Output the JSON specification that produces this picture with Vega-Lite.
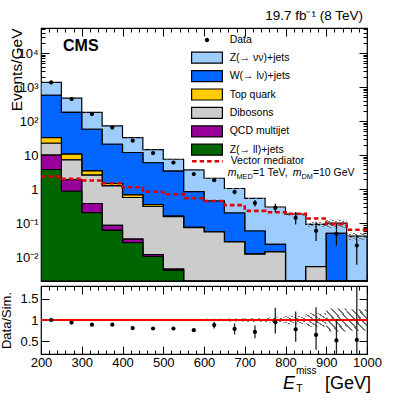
{
  "$schema": "https://vega.github.io/schema/vega-lite/v6.json",
  "background": "white",
  "padding": {"left": 0, "top": 8, "right": 4, "bottom": 0},
  "spacing": 1,
  "datasets": {
    "hist": [
      {"p": "Z(→ νν)+jets", "lo": 200, "hi": 250, "y0": 580, "y1": 1380},
      {"p": "Z(→ νν)+jets", "lo": 250, "hi": 300, "y0": 182, "y1": 475},
      {"p": "Z(→ νν)+jets", "lo": 300, "hi": 350, "y0": 58, "y1": 182},
      {"p": "Z(→ νν)+jets", "lo": 350, "hi": 400, "y0": 21, "y1": 73},
      {"p": "Z(→ νν)+jets", "lo": 400, "hi": 450, "y0": 12, "y1": 33},
      {"p": "Z(→ νν)+jets", "lo": 450, "hi": 500, "y0": 6, "y1": 14.5},
      {"p": "Z(→ νν)+jets", "lo": 500, "hi": 550, "y0": 3.4, "y1": 7.6},
      {"p": "Z(→ νν)+jets", "lo": 550, "hi": 600, "y0": 0.85, "y1": 3.7},
      {"p": "Z(→ νν)+jets", "lo": 600, "hi": 650, "y0": 0.45, "y1": 2.1},
      {"p": "Z(→ νν)+jets", "lo": 650, "hi": 700, "y0": 0.2, "y1": 1.05},
      {"p": "Z(→ νν)+jets", "lo": 700, "hi": 750, "y0": 0.059, "y1": 0.54},
      {"p": "Z(→ νν)+jets", "lo": 750, "hi": 800, "y0": 0.024, "y1": 0.30},
      {"p": "Z(→ νν)+jets", "lo": 800, "hi": 850, "y0": 0, "y1": 0.184},
      {"p": "Z(→ νν)+jets", "lo": 850, "hi": 900, "y0": 0.0053, "y1": 0.093},
      {"p": "Z(→ νν)+jets", "lo": 900, "hi": 950, "y0": 0.05, "y1": 0.1},
      {"p": "Z(→ νν)+jets", "lo": 950, "hi": 1000, "y0": 0, "y1": 0.042},
      {"p": "W(→ lν)+jets", "lo": 200, "hi": 250, "y0": 33, "y1": 580},
      {"p": "W(→ lν)+jets", "lo": 250, "hi": 300, "y0": 10.7, "y1": 182},
      {"p": "W(→ lν)+jets", "lo": 300, "hi": 350, "y0": 3.45, "y1": 58},
      {"p": "W(→ lν)+jets", "lo": 350, "hi": 400, "y0": 1.47, "y1": 21},
      {"p": "W(→ lν)+jets", "lo": 400, "hi": 450, "y0": 0.68, "y1": 12},
      {"p": "W(→ lν)+jets", "lo": 450, "hi": 500, "y0": 0.35, "y1": 6},
      {"p": "W(→ lν)+jets", "lo": 500, "hi": 550, "y0": 0.162, "y1": 3.4},
      {"p": "W(→ lν)+jets", "lo": 550, "hi": 600, "y0": 0.076, "y1": 0.85},
      {"p": "W(→ lν)+jets", "lo": 600, "hi": 650, "y0": 0.057, "y1": 0.45},
      {"p": "W(→ lν)+jets", "lo": 650, "hi": 700, "y0": 0.0285, "y1": 0.2},
      {"p": "W(→ lν)+jets", "lo": 700, "hi": 750, "y0": 0.0125, "y1": 0.059},
      {"p": "W(→ lν)+jets", "lo": 750, "hi": 800, "y0": 0.0145, "y1": 0.024},
      {"p": "W(→ lν)+jets", "lo": 800, "hi": 850, "y0": 0, "y1": 0},
      {"p": "W(→ lν)+jets", "lo": 850, "hi": 900, "y0": 0.0053, "y1": 0.0053},
      {"p": "W(→ lν)+jets", "lo": 900, "hi": 950, "y0": 0, "y1": 0.05},
      {"p": "W(→ lν)+jets", "lo": 950, "hi": 1000, "y0": 0, "y1": 0},
      {"p": "Top quark", "lo": 200, "hi": 250, "y0": 22.5, "y1": 33},
      {"p": "Top quark", "lo": 250, "hi": 300, "y0": 7.3, "y1": 10.7},
      {"p": "Top quark", "lo": 300, "hi": 350, "y0": 2.58, "y1": 3.45},
      {"p": "Top quark", "lo": 350, "hi": 400, "y0": 1.25, "y1": 1.47},
      {"p": "Top quark", "lo": 400, "hi": 450, "y0": 0.57, "y1": 0.68},
      {"p": "Top quark", "lo": 450, "hi": 500, "y0": 0.31, "y1": 0.35},
      {"p": "Top quark", "lo": 500, "hi": 550, "y0": 0.157, "y1": 0.162},
      {"p": "Top quark", "lo": 550, "hi": 600, "y0": 0.074, "y1": 0.076},
      {"p": "Top quark", "lo": 600, "hi": 650, "y0": 0.056, "y1": 0.057},
      {"p": "Top quark", "lo": 650, "hi": 700, "y0": 0.028, "y1": 0.0285},
      {"p": "Top quark", "lo": 700, "hi": 750, "y0": 0.0123, "y1": 0.0125},
      {"p": "Top quark", "lo": 750, "hi": 800, "y0": 0.0143, "y1": 0.0145},
      {"p": "Top quark", "lo": 800, "hi": 850, "y0": 0, "y1": 0},
      {"p": "Top quark", "lo": 850, "hi": 900, "y0": 0.0053, "y1": 0.0053},
      {"p": "Top quark", "lo": 900, "hi": 950, "y0": 0, "y1": 0},
      {"p": "Top quark", "lo": 950, "hi": 1000, "y0": 0, "y1": 0},
      {"p": "Dibosons", "lo": 200, "hi": 250, "y0": 10, "y1": 22.5},
      {"p": "Dibosons", "lo": 250, "hi": 300, "y0": 1.9, "y1": 7.3},
      {"p": "Dibosons", "lo": 300, "hi": 350, "y0": 0.38, "y1": 2.58},
      {"p": "Dibosons", "lo": 350, "hi": 400, "y0": 0.087, "y1": 1.25},
      {"p": "Dibosons", "lo": 400, "hi": 450, "y0": 0.034, "y1": 0.57},
      {"p": "Dibosons", "lo": 450, "hi": 500, "y0": 0.012, "y1": 0.31},
      {"p": "Dibosons", "lo": 500, "hi": 550, "y0": 0.0045, "y1": 0.157},
      {"p": "Dibosons", "lo": 550, "hi": 600, "y0": 0, "y1": 0.074},
      {"p": "Dibosons", "lo": 600, "hi": 650, "y0": 0, "y1": 0.056},
      {"p": "Dibosons", "lo": 650, "hi": 700, "y0": 0, "y1": 0.028},
      {"p": "Dibosons", "lo": 700, "hi": 750, "y0": 0, "y1": 0.0123},
      {"p": "Dibosons", "lo": 750, "hi": 800, "y0": 0, "y1": 0.0143},
      {"p": "Dibosons", "lo": 800, "hi": 850, "y0": 0, "y1": 0},
      {"p": "Dibosons", "lo": 850, "hi": 900, "y0": 0, "y1": 0.0053},
      {"p": "Dibosons", "lo": 900, "hi": 950, "y0": 0, "y1": 0},
      {"p": "Dibosons", "lo": 950, "hi": 1000, "y0": 0, "y1": 0},
      {"p": "QCD multijet", "lo": 200, "hi": 250, "y0": 3.8, "y1": 10},
      {"p": "QCD multijet", "lo": 250, "hi": 300, "y0": 0.87, "y1": 1.9},
      {"p": "QCD multijet", "lo": 300, "hi": 350, "y0": 0.206, "y1": 0.38},
      {"p": "QCD multijet", "lo": 350, "hi": 400, "y0": 0.062, "y1": 0.087},
      {"p": "QCD multijet", "lo": 400, "hi": 450, "y0": 0.027, "y1": 0.034},
      {"p": "QCD multijet", "lo": 450, "hi": 500, "y0": 0.0105, "y1": 0.012},
      {"p": "QCD multijet", "lo": 500, "hi": 550, "y0": 0.0041, "y1": 0.0045},
      {"p": "QCD multijet", "lo": 550, "hi": 600, "y0": 0, "y1": 0},
      {"p": "QCD multijet", "lo": 600, "hi": 650, "y0": 0, "y1": 0},
      {"p": "QCD multijet", "lo": 650, "hi": 700, "y0": 0, "y1": 0},
      {"p": "QCD multijet", "lo": 700, "hi": 750, "y0": 0, "y1": 0},
      {"p": "QCD multijet", "lo": 750, "hi": 800, "y0": 0, "y1": 0},
      {"p": "QCD multijet", "lo": 800, "hi": 850, "y0": 0, "y1": 0},
      {"p": "QCD multijet", "lo": 850, "hi": 900, "y0": 0, "y1": 0},
      {"p": "QCD multijet", "lo": 900, "hi": 950, "y0": 0, "y1": 0},
      {"p": "QCD multijet", "lo": 950, "hi": 1000, "y0": 0, "y1": 0},
      {"p": "Z(→ ll)+jets", "lo": 200, "hi": 250, "y0": 0, "y1": 3.8},
      {"p": "Z(→ ll)+jets", "lo": 250, "hi": 300, "y0": 0, "y1": 0.87},
      {"p": "Z(→ ll)+jets", "lo": 300, "hi": 350, "y0": 0, "y1": 0.206},
      {"p": "Z(→ ll)+jets", "lo": 350, "hi": 400, "y0": 0, "y1": 0.062},
      {"p": "Z(→ ll)+jets", "lo": 400, "hi": 450, "y0": 0, "y1": 0.027},
      {"p": "Z(→ ll)+jets", "lo": 450, "hi": 500, "y0": 0, "y1": 0.0105},
      {"p": "Z(→ ll)+jets", "lo": 500, "hi": 550, "y0": 0, "y1": 0.0041},
      {"p": "Z(→ ll)+jets", "lo": 550, "hi": 600, "y0": 0, "y1": 0},
      {"p": "Z(→ ll)+jets", "lo": 600, "hi": 650, "y0": 0, "y1": 0},
      {"p": "Z(→ ll)+jets", "lo": 650, "hi": 700, "y0": 0, "y1": 0},
      {"p": "Z(→ ll)+jets", "lo": 700, "hi": 750, "y0": 0, "y1": 0},
      {"p": "Z(→ ll)+jets", "lo": 750, "hi": 800, "y0": 0, "y1": 0},
      {"p": "Z(→ ll)+jets", "lo": 800, "hi": 850, "y0": 0, "y1": 0},
      {"p": "Z(→ ll)+jets", "lo": 850, "hi": 900, "y0": 0, "y1": 0},
      {"p": "Z(→ ll)+jets", "lo": 900, "hi": 950, "y0": 0, "y1": 0},
      {"p": "Z(→ ll)+jets", "lo": 950, "hi": 1000, "y0": 0, "y1": 0}
    ],
    "med": [
      {"lo": 200, "hi": 250, "m": 2.36},
      {"lo": 250, "hi": 300, "m": 2.03},
      {"lo": 300, "hi": 350, "m": 1.8},
      {"lo": 350, "hi": 400, "m": 1.5},
      {"lo": 400, "hi": 450, "m": 1.14},
      {"lo": 450, "hi": 500, "m": 0.84},
      {"lo": 500, "hi": 550, "m": 0.71},
      {"lo": 550, "hi": 600, "m": 0.54},
      {"lo": 600, "hi": 650, "m": 0.45},
      {"lo": 650, "hi": 700, "m": 0.34},
      {"lo": 700, "hi": 750, "m": 0.23},
      {"lo": 750, "hi": 800, "m": 0.21},
      {"lo": 800, "hi": 850, "m": 0.19},
      {"lo": 850, "hi": 900, "m": 0.137},
      {"lo": 900, "hi": 950, "m": 0.094},
      {"lo": 950, "hi": 1000, "m": 0.064}
    ],
    "pts": [
      {"x": 225, "d": 1380, "dlo": 1365, "dhi": 1395, "r": 1.0, "rlo": 0.99, "rhi": 1.01},
      {"x": 275, "d": 447, "dlo": 440, "dhi": 454, "r": 0.94, "rlo": 0.93, "rhi": 0.95},
      {"x": 325, "d": 162, "dlo": 158, "dhi": 166, "r": 0.89, "rlo": 0.875, "rhi": 0.905},
      {"x": 375, "d": 65, "dlo": 63, "dhi": 67, "r": 0.89, "rlo": 0.87, "rhi": 0.91},
      {"x": 425, "d": 26.7, "dlo": 25.7, "dhi": 27.7, "r": 0.81, "rlo": 0.79, "rhi": 0.83},
      {"x": 475, "d": 11.6, "dlo": 11, "dhi": 12.2, "r": 0.8, "rlo": 0.775, "rhi": 0.825},
      {"x": 525, "d": 6.1, "dlo": 5.7, "dhi": 6.5, "r": 0.8, "rlo": 0.77, "rhi": 0.83},
      {"x": 575, "d": 2.8, "dlo": 2.6, "dhi": 3.0, "r": 0.76, "rlo": 0.72, "rhi": 0.8},
      {"x": 625, "d": 1.85, "dlo": 1.66, "dhi": 2.05, "r": 0.88, "rlo": 0.8, "rhi": 0.96},
      {"x": 675, "d": 0.83, "dlo": 0.71, "dhi": 0.96, "r": 0.79, "rlo": 0.66, "rhi": 0.92},
      {"x": 725, "d": 0.39, "dlo": 0.31, "dhi": 0.48, "r": 0.72, "rlo": 0.57, "rhi": 0.87},
      {"x": 775, "d": 0.285, "dlo": 0.21, "dhi": 0.375, "r": 0.95, "rlo": 0.68, "rhi": 1.29},
      {"x": 825, "d": 0.144, "dlo": 0.092, "dhi": 0.215, "r": 0.78, "rlo": 0.49, "rhi": 1.2},
      {"x": 875, "d": 0.06, "dlo": 0.03, "dhi": 0.11, "r": 0.65, "rlo": 0.3, "rhi": 1.3},
      {"x": 925, "d": 0.049, "dlo": 0.022, "dhi": 0.095, "r": 0.52, "rlo": 0.1, "rhi": 1.02},
      {"x": 975, "d": 0.022, "dlo": 0.006, "dhi": 0.045, "r": 0.53, "rlo": 0.05, "rhi": 2.0}
    ],
    "unc": [
      {"lo": 200, "hi": 250, "blo": 1366, "bhi": 1394, "ulo": 0.995, "uhi": 1.005},
      {"lo": 250, "hi": 300, "blo": 470, "bhi": 480, "ulo": 0.995, "uhi": 1.005},
      {"lo": 300, "hi": 350, "blo": 180, "bhi": 184, "ulo": 0.994, "uhi": 1.006},
      {"lo": 350, "hi": 400, "blo": 72.4, "bhi": 73.6, "ulo": 0.992, "uhi": 1.008},
      {"lo": 400, "hi": 450, "blo": 32.5, "bhi": 33.5, "ulo": 0.985, "uhi": 1.015},
      {"lo": 450, "hi": 500, "blo": 14.2, "bhi": 14.8, "ulo": 0.982, "uhi": 1.018},
      {"lo": 500, "hi": 550, "blo": 7.45, "bhi": 7.75, "ulo": 0.98, "uhi": 1.02},
      {"lo": 550, "hi": 600, "blo": 3.61, "bhi": 3.79, "ulo": 0.975, "uhi": 1.025},
      {"lo": 600, "hi": 650, "blo": 2.04, "bhi": 2.16, "ulo": 0.97, "uhi": 1.03},
      {"lo": 650, "hi": 700, "blo": 1.01, "bhi": 1.09, "ulo": 0.965, "uhi": 1.035},
      {"lo": 700, "hi": 750, "blo": 0.516, "bhi": 0.564, "ulo": 0.955, "uhi": 1.045},
      {"lo": 750, "hi": 800, "blo": 0.282, "bhi": 0.318, "ulo": 0.94, "uhi": 1.06},
      {"lo": 800, "hi": 850, "blo": 0.166, "bhi": 0.202, "ulo": 0.9, "uhi": 1.1},
      {"lo": 850, "hi": 900, "blo": 0.078, "bhi": 0.108, "ulo": 0.84, "uhi": 1.16},
      {"lo": 900, "hi": 950, "blo": 0.073, "bhi": 0.127, "ulo": 0.73, "uhi": 1.27},
      {"lo": 950, "hi": 1000, "blo": 0.0315, "bhi": 0.0525, "ulo": 0.75, "uhi": 1.25}
    ]
  },
  "vconcat": [
    {
      "width": 326,
      "height": 253,
      "title": {"text": "19.7 fb⁻¹ (8 TeV)", "anchor": "end", "frame": "group", "fontSize": 13.5, "fontWeight": "normal", "font": "Liberation Sans", "color": "black", "offset": 5, "dx": -4},
      "resolve": {"axis": {"x": "independent", "y": "independent"}},
      "layer": [
        {
          "data": {"name": "hist"},
          "transform": [{"fold": ["lo", "hi"], "as": ["edge", "xv"]}],
          "mark": {"type": "area", "stroke": "black", "strokeWidth": 1.2, "invalid": "show", "clip": true, "interpolate": "linear"},
          "encoding": {
            "x": {"field": "xv", "type": "quantitative", "scale": {"domain": [200, 1000], "nice": false, "zero": false},
              "axis": {"orient": "bottom", "values": [200,220,240,260,280,300,320,340,360,380,400,420,440,460,480,500,520,540,560,580,600,620,640,660,680,700,720,740,760,780,800,820,840,860,880,900,920,940,960,980,1000], "labels": false, "title": null, "minExtent": 0, "maxExtent": 0,
                "tickSize": {"condition": {"test": "datum.value % 100 === 0", "value": -8}, "value": -4}}},
            "y": {"field": "y1", "type": "quantitative", "stack": null, "scale": {"type": "log", "domain": [0.002, 55000], "nice": false, "clamp": true},
              "axis": {"orient": "left", "title": "Events/GeV", "titleFontSize": 15.5, "titleAnchor": "end", "titlePadding": -9,
                "values": [0.002,0.003,0.004,0.005,0.006,0.007,0.008,0.009,0.01,0.02,0.03,0.04,0.05,0.06,0.07,0.08,0.09,0.1,0.2,0.3,0.4,0.5,0.6,0.7,0.8,0.9,1,2,3,4,5,6,7,8,9,10,20,30,40,50,60,70,80,90,100,200,300,400,500,600,700,800,900,1000,2000,3000,4000,5000,6000,7000,8000,9000,10000,20000,30000,40000,50000],
                "labelExpr": "datum.value == 10000 ? '10⁴' : datum.value == 1000 ? '10³' : datum.value == 100 ? '10²' : datum.value == 10 ? '10' : datum.value == 1 ? '1' : datum.value == 0.1 ? '10⁻¹' : datum.value == 0.01 ? '10⁻²' : ''",
                "labelFontSize": {"condition": {"test": "indexof([0.01,0.1,1,10,100,1000,10000], datum.value) >= 0", "value": 13}, "value": 0},
                "tickSize": {"condition": {"test": "indexof([0.01,0.1,1,10,100,1000,10000], datum.value) >= 0", "value": -8}, "value": -4},
                "labelPadding": 11}},
            "y2": {"field": "y0"},
            "fill": {"field": "p", "type": "nominal",
              "scale": {"domain": ["Z(→ νν)+jets", "W(→ lν)+jets", "Top quark", "Dibosons", "QCD multijet", "Z(→ ll)+jets"],
                        "range": ["#9dcdff", "#0066ff", "#ffcc00", "#cccccc", "#990099", "#006600"]},
              "legend": {"orient": "none", "legendX": 159.5, "legendY": 23.2, "title": null, "padding": 0,
                "labelFont": "Liberation Sans", "labelFontSize": 10.5, "labelColor": "black", "labelLimit": 300,
                "symbolType": "M-2.8,-1H2.8V1H-2.8Z", "symbolSize": 121, "symbolStrokeColor": "black", "symbolStrokeWidth": 1.2, "symbolOpacity": 1,
                "rowPadding": 1.4, "labelOffset": 16.2}}
          }
        },
        {
          "data": {"name": "unc"},
          "mark": {"type": "rect", "clip": true,
            "fill": {"gradient": "linear", "x1": 0, "y1": 1, "x2": 1, "y2": 0, "stops": [
              {"offset": 0, "color": "rgba(110,110,110,0)"}, {"offset": 0.1, "color": "rgba(110,110,110,0)"},
              {"offset": 0.1, "color": "#707070"}, {"offset": 0.15, "color": "#707070"},
              {"offset": 0.15, "color": "rgba(110,110,110,0)"}, {"offset": 0.2667, "color": "rgba(110,110,110,0)"},
              {"offset": 0.2667, "color": "#707070"}, {"offset": 0.3167, "color": "#707070"},
              {"offset": 0.3167, "color": "rgba(110,110,110,0)"}, {"offset": 0.4333, "color": "rgba(110,110,110,0)"},
              {"offset": 0.4333, "color": "#707070"}, {"offset": 0.4833, "color": "#707070"},
              {"offset": 0.4833, "color": "rgba(110,110,110,0)"}, {"offset": 0.6, "color": "rgba(110,110,110,0)"},
              {"offset": 0.6, "color": "#707070"}, {"offset": 0.65, "color": "#707070"},
              {"offset": 0.65, "color": "rgba(110,110,110,0)"}, {"offset": 0.7667, "color": "rgba(110,110,110,0)"},
              {"offset": 0.7667, "color": "#707070"}, {"offset": 0.8167, "color": "#707070"},
              {"offset": 0.8167, "color": "rgba(110,110,110,0)"}, {"offset": 0.9333, "color": "rgba(110,110,110,0)"},
              {"offset": 0.9333, "color": "#707070"}, {"offset": 0.9833, "color": "#707070"},
              {"offset": 0.9833, "color": "rgba(110,110,110,0)"}, {"offset": 1, "color": "rgba(110,110,110,0)"}]}},
          "encoding": {
            "x": {"field": "lo", "type": "quantitative", "scale": {"domain": [200, 1000], "nice": false, "zero": false}, "axis": null},
            "x2": {"field": "hi"},
            "y": {"field": "blo", "type": "quantitative", "scale": {"type": "log", "domain": [0.002, 55000], "nice": false, "clamp": true}, "axis": null},
            "y2": {"field": "bhi"}
          }
        },
        {
          "data": {"name": "med"},
          "transform": [{"fold": ["lo", "hi"], "as": ["edge", "xv"]}],
          "mark": {"type": "line", "color": "#dd0000", "strokeWidth": 2.6, "clip": true},
          "encoding": {
            "x": {"field": "xv", "type": "quantitative", "scale": {"domain": [200, 1000], "nice": false, "zero": false}, "axis": null},
            "y": {"field": "m", "type": "quantitative", "scale": {"type": "log", "domain": [0.002, 55000], "nice": false, "clamp": true}, "axis": null},
            "strokeDash": {"datum": "Vector mediator", "type": "nominal", "scale": {"domain": ["Vector mediator"], "range": [[4.5, 3]]},
              "legend": {"orient": "none", "legendX": 159.5, "legendY": 126.2, "title": null, "padding": 0,
                "labelFont": "Liberation Sans", "labelFontSize": 10.5, "labelColor": "black", "labelLimit": 300,
                "symbolType": "M-2.8,0H2.8", "symbolSize": 121, "symbolStrokeColor": "#dd0000", "symbolStrokeWidth": 2.6, "symbolDash": [4.5, 3], "symbolFillColor": "transparent", "symbolOpacity": 1,
                "labelOffset": 16.2}}
          }
        },
        {
          "data": {"name": "pts"},
          "mark": {"type": "rule", "color": "black", "strokeWidth": 1.2, "clip": true},
          "encoding": {
            "x": {"field": "x", "type": "quantitative", "scale": {"domain": [200, 1000], "nice": false, "zero": false}, "axis": null},
            "y": {"field": "dlo", "type": "quantitative", "scale": {"type": "log", "domain": [0.002, 55000], "nice": false, "clamp": true}, "axis": null},
            "y2": {"field": "dhi"}
          }
        },
        {
          "data": {"name": "pts"},
          "mark": {"type": "point", "filled": true, "color": "black", "size": 18, "opacity": 1},
          "encoding": {
            "x": {"field": "x", "type": "quantitative", "scale": {"domain": [200, 1000], "nice": false, "zero": false}, "axis": null},
            "y": {"field": "d", "type": "quantitative", "scale": {"type": "log", "domain": [0.002, 55000], "nice": false, "clamp": true}, "axis": null}
          }
        },
        {
          "data": {"values": [{}]},
          "mark": {"type": "text", "text": "CMS", "font": "Liberation Sans", "fontWeight": "bold", "fontSize": 16, "align": "left", "baseline": "alphabetic", "color": "black"},
          "encoding": {
            "x": {"datum": 254, "type": "quantitative", "scale": {"domain": [200, 1000], "nice": false, "zero": false}, "axis": null},
            "y": {"datum": 11500, "type": "quantitative", "scale": {"type": "log", "domain": [0.002, 55000], "nice": false, "clamp": true}, "axis": null}
          }
        },
        {
          "data": {"values": [{}]},
          "mark": {"type": "text", "text": "m", "font": "Liberation Sans", "fontStyle": "italic", "fontSize": 10.5, "align": "left", "baseline": "alphabetic", "color": "black"},
          "encoding": {
            "x": {"datum": 658.2, "type": "quantitative", "scale": {"domain": [200, 1000], "nice": false, "zero": false}, "axis": null},
            "y": {"datum": 2.41, "type": "quantitative", "scale": {"type": "log", "domain": [0.002, 55000], "nice": false, "clamp": true}, "axis": null}
          }
        },
        {
          "data": {"values": [{}]},
          "mark": {"type": "text", "text": "MED", "font": "Liberation Sans", "fontSize": 7.35, "align": "left", "baseline": "alphabetic", "dy": 3, "color": "black"},
          "encoding": {
            "x": {"datum": 679.6, "type": "quantitative", "scale": {"domain": [200, 1000], "nice": false, "zero": false}, "axis": null},
            "y": {"datum": 2.41, "type": "quantitative", "scale": {"type": "log", "domain": [0.002, 55000], "nice": false, "clamp": true}, "axis": null}
          }
        },
        {
          "data": {"values": [{}]},
          "mark": {"type": "text", "text": "=1 TeV,", "font": "Liberation Sans", "fontSize": 10.5, "align": "left", "baseline": "alphabetic", "color": "black"},
          "encoding": {
            "x": {"datum": 719.8, "type": "quantitative", "scale": {"domain": [200, 1000], "nice": false, "zero": false}, "axis": null},
            "y": {"datum": 2.41, "type": "quantitative", "scale": {"type": "log", "domain": [0.002, 55000], "nice": false, "clamp": true}, "axis": null}
          }
        },
        {
          "data": {"values": [{}]},
          "mark": {"type": "text", "text": "m", "font": "Liberation Sans", "fontStyle": "italic", "fontSize": 10.5, "align": "left", "baseline": "alphabetic", "color": "black"},
          "encoding": {
            "x": {"datum": 817.9, "type": "quantitative", "scale": {"domain": [200, 1000], "nice": false, "zero": false}, "axis": null},
            "y": {"datum": 2.41, "type": "quantitative", "scale": {"type": "log", "domain": [0.002, 55000], "nice": false, "clamp": true}, "axis": null}
          }
        },
        {
          "data": {"values": [{}]},
          "mark": {"type": "text", "text": "DM", "font": "Liberation Sans", "fontSize": 7.35, "align": "left", "baseline": "alphabetic", "dy": 3, "color": "black"},
          "encoding": {
            "x": {"datum": 839.3, "type": "quantitative", "scale": {"domain": [200, 1000], "nice": false, "zero": false}, "axis": null},
            "y": {"datum": 2.41, "type": "quantitative", "scale": {"type": "log", "domain": [0.002, 55000], "nice": false, "clamp": true}, "axis": null}
          }
        },
        {
          "data": {"values": [{}]},
          "mark": {"type": "text", "text": "=10 GeV", "font": "Liberation Sans", "fontSize": 10.5, "align": "left", "baseline": "alphabetic", "color": "black"},
          "encoding": {
            "x": {"datum": 867.2, "type": "quantitative", "scale": {"domain": [200, 1000], "nice": false, "zero": false}, "axis": null},
            "y": {"datum": 2.41, "type": "quantitative", "scale": {"type": "log", "domain": [0.002, 55000], "nice": false, "clamp": true}, "axis": null}
          }
        },
        {
          "data": {"name": "pts"},
          "mark": {"type": "point", "opacity": 0, "filled": true, "color": "black"},
          "encoding": {
            "x": {"field": "x", "type": "quantitative", "scale": {"domain": [200, 1000], "nice": false, "zero": false},
              "axis": {"orient": "top", "values": [200,220,240,260,280,300,320,340,360,380,400,420,440,460,480,500,520,540,560,580,600,620,640,660,680,700,720,740,760,780,800,820,840,860,880,900,920,940,960,980,1000], "labels": false, "title": null, "minExtent": 0, "maxExtent": 0,
                "tickSize": {"condition": {"test": "datum.value % 100 === 0", "value": -8}, "value": -4}}},
            "y": {"field": "d", "type": "quantitative", "scale": {"type": "log", "domain": [0.002, 55000], "nice": false, "clamp": true},
              "axis": {"orient": "right", "title": null, "labels": false, "minExtent": 0, "maxExtent": 0,
                "values": [0.002,0.003,0.004,0.005,0.006,0.007,0.008,0.009,0.01,0.02,0.03,0.04,0.05,0.06,0.07,0.08,0.09,0.1,0.2,0.3,0.4,0.5,0.6,0.7,0.8,0.9,1,2,3,4,5,6,7,8,9,10,20,30,40,50,60,70,80,90,100,200,300,400,500,600,700,800,900,1000,2000,3000,4000,5000,6000,7000,8000,9000,10000,20000,30000,40000,50000],
                "tickSize": {"condition": {"test": "indexof([0.01,0.1,1,10,100,1000,10000], datum.value) >= 0", "value": -8}, "value": -4}}},
            "shape": {"datum": "Data", "type": "nominal", "scale": {"domain": ["Data"], "range": ["M0,-1V1M0.4,0A0.4,0.4 0 1,1 -0.4,0A0.4,0.4 0 1,1 0.4,0Z"]},
              "legend": {"orient": "none", "legendX": 159.5, "legendY": 5.5, "title": null, "padding": 0,
                "labelFont": "Liberation Sans", "labelFontSize": 10.5, "labelColor": "black", "labelLimit": 300,
                "symbolSize": 121, "symbolStrokeColor": "black", "symbolStrokeWidth": 1.2, "symbolFillColor": "black", "symbolOpacity": 1,
                "labelOffset": 16.2}}
          }
        }
      ]
    },
    {
      "width": 326,
      "height": 68,
      "resolve": {"axis": {"x": "independent", "y": "independent"}},
      "layer": [
        {
          "data": {"name": "unc"},
          "mark": {"type": "rect", "clip": true,
            "fill": {"gradient": "linear", "x1": 0, "y1": 1, "x2": 1, "y2": 0, "stops": [
              {"offset": 0, "color": "rgba(110,110,110,0)"}, {"offset": 0.1, "color": "rgba(110,110,110,0)"},
              {"offset": 0.1, "color": "#707070"}, {"offset": 0.15, "color": "#707070"},
              {"offset": 0.15, "color": "rgba(110,110,110,0)"}, {"offset": 0.2667, "color": "rgba(110,110,110,0)"},
              {"offset": 0.2667, "color": "#707070"}, {"offset": 0.3167, "color": "#707070"},
              {"offset": 0.3167, "color": "rgba(110,110,110,0)"}, {"offset": 0.4333, "color": "rgba(110,110,110,0)"},
              {"offset": 0.4333, "color": "#707070"}, {"offset": 0.4833, "color": "#707070"},
              {"offset": 0.4833, "color": "rgba(110,110,110,0)"}, {"offset": 0.6, "color": "rgba(110,110,110,0)"},
              {"offset": 0.6, "color": "#707070"}, {"offset": 0.65, "color": "#707070"},
              {"offset": 0.65, "color": "rgba(110,110,110,0)"}, {"offset": 0.7667, "color": "rgba(110,110,110,0)"},
              {"offset": 0.7667, "color": "#707070"}, {"offset": 0.8167, "color": "#707070"},
              {"offset": 0.8167, "color": "rgba(110,110,110,0)"}, {"offset": 0.9333, "color": "rgba(110,110,110,0)"},
              {"offset": 0.9333, "color": "#707070"}, {"offset": 0.9833, "color": "#707070"},
              {"offset": 0.9833, "color": "rgba(110,110,110,0)"}, {"offset": 1, "color": "rgba(110,110,110,0)"}]}},
          "encoding": {
            "x": {"field": "lo", "type": "quantitative", "scale": {"domain": [200, 1000], "nice": false, "zero": false},
              "axis": {"orient": "bottom", "values": [200,220,240,260,280,300,320,340,360,380,400,420,440,460,480,500,520,540,560,580,600,620,640,660,680,700,720,740,760,780,800,820,840,860,880,900,920,940,960,980,1000], "title": null,
                "labelExpr": "datum.value % 100 === 0 ? format(datum.value, 'd') : ''", "labelPadding": 10,
                "tickSize": {"condition": {"test": "datum.value % 100 === 0", "value": -8}, "value": -4}}},
            "x2": {"field": "hi"},
            "y": {"field": "ulo", "type": "quantitative", "scale": {"domain": [0.2, 1.8], "nice": false, "zero": false},
              "axis": {"orient": "left", "title": "Data/Sim.", "titleFontSize": 13, "titlePadding": 6, "values": [0.5, 1, 1.5], "format": "~g", "tickSize": -8, "labelPadding": 11}},
            "y2": {"field": "uhi"}
          }
        },
        {
          "data": {"values": [{}]},
          "mark": {"type": "rule", "color": "#ff0000", "strokeWidth": 2},
          "encoding": {
            "y": {"datum": 1, "type": "quantitative", "scale": {"domain": [0.2, 1.8], "nice": false, "zero": false}, "axis": null}
          }
        },
        {
          "data": {"name": "pts"},
          "mark": {"type": "rule", "color": "#222222", "strokeWidth": 1.3, "clip": true},
          "encoding": {
            "x": {"field": "x", "type": "quantitative", "scale": {"domain": [200, 1000], "nice": false, "zero": false}, "axis": null},
            "y": {"field": "rlo", "type": "quantitative", "scale": {"domain": [0.2, 1.8], "nice": false, "zero": false}, "axis": null},
            "y2": {"field": "rhi"}
          }
        },
        {
          "data": {"name": "pts"},
          "mark": {"type": "point", "filled": true, "color": "black", "size": 18, "opacity": 1},
          "encoding": {
            "x": {"field": "x", "type": "quantitative", "scale": {"domain": [200, 1000], "nice": false, "zero": false}, "axis": null},
            "y": {"field": "r", "type": "quantitative", "scale": {"domain": [0.2, 1.8], "nice": false, "zero": false}, "axis": null}
          }
        },
        {
          "data": {"values": [{}]},
          "mark": {"type": "text", "text": "E", "font": "Liberation Sans", "fontStyle": "italic", "fontSize": 18, "align": "left", "baseline": "alphabetic", "dy": 35, "color": "black"},
          "encoding": {
            "x": {"datum": 793.9, "type": "quantitative", "scale": {"domain": [200, 1000], "nice": false, "zero": false}, "axis": null},
            "y": {"datum": 0.2, "type": "quantitative", "scale": {"domain": [0.2, 1.8], "nice": false, "zero": false}, "axis": null}
          }
        },
        {
          "data": {"values": [{}]},
          "mark": {"type": "text", "text": "T", "font": "Liberation Sans", "fontSize": 11, "align": "left", "baseline": "alphabetic", "dy": 38, "color": "black"},
          "encoding": {
            "x": {"datum": 825.8, "type": "quantitative", "scale": {"domain": [200, 1000], "nice": false, "zero": false}, "axis": null},
            "y": {"datum": 0.2, "type": "quantitative", "scale": {"domain": [0.2, 1.8], "nice": false, "zero": false}, "axis": null}
          }
        },
        {
          "data": {"values": [{}]},
          "mark": {"type": "text", "text": "miss", "font": "Liberation Sans", "fontSize": 10, "align": "left", "baseline": "alphabetic", "dy": 20, "color": "black"},
          "encoding": {
            "x": {"datum": 825.8, "type": "quantitative", "scale": {"domain": [200, 1000], "nice": false, "zero": false}, "axis": null},
            "y": {"datum": 0.2, "type": "quantitative", "scale": {"domain": [0.2, 1.8], "nice": false, "zero": false}, "axis": null}
          }
        },
        {
          "data": {"values": [{}]},
          "mark": {"type": "text", "text": "[GeV]", "font": "Liberation Sans", "fontSize": 18, "align": "left", "baseline": "alphabetic", "dy": 35, "color": "black"},
          "encoding": {
            "x": {"datum": 897, "type": "quantitative", "scale": {"domain": [200, 1000], "nice": false, "zero": false}, "axis": null},
            "y": {"datum": 0.2, "type": "quantitative", "scale": {"domain": [0.2, 1.8], "nice": false, "zero": false}, "axis": null}
          }
        },
        {
          "data": {"name": "pts"},
          "mark": {"type": "point", "opacity": 0},
          "encoding": {
            "x": {"field": "x", "type": "quantitative", "scale": {"domain": [200, 1000], "nice": false, "zero": false},
              "axis": {"orient": "top", "values": [200,220,240,260,280,300,320,340,360,380,400,420,440,460,480,500,520,540,560,580,600,620,640,660,680,700,720,740,760,780,800,820,840,860,880,900,920,940,960,980,1000], "labels": false, "title": null, "minExtent": 0, "maxExtent": 0,
                "tickSize": {"condition": {"test": "datum.value % 100 === 0", "value": -8}, "value": -4}}},
            "y": {"field": "r", "type": "quantitative", "scale": {"domain": [0.2, 1.8], "nice": false, "zero": false},
              "axis": {"orient": "right", "title": null, "labels": false, "minExtent": 0, "maxExtent": 0, "values": [0.5, 1, 1.5], "tickSize": -8}}
          }
        }
      ]
    }
  ],
  "config": {
    "view": {"stroke": "black", "strokeWidth": 1.2},
    "font": "Liberation Sans",
    "axis": {"domain": false, "grid": false, "labelFont": "Liberation Sans", "labelFontSize": 13, "labelColor": "black", "titleFont": "Liberation Sans", "titleFontWeight": "normal", "titleColor": "black", "tickColor": "black", "tickWidth": 1, "labelOverlap": false, "labelFlush": false}
  }
}
